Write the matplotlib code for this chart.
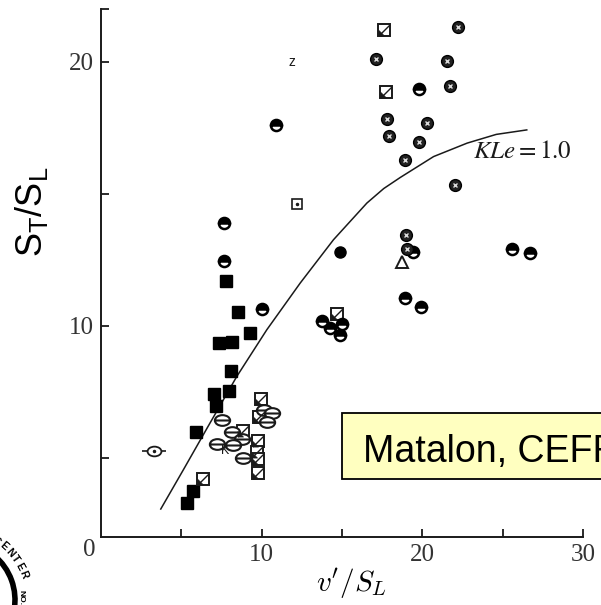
# Turbulent flame speed data, S_T/S_L against v'/S_L, with the KLe = 1.0 curve.

import matplotlib
matplotlib.use("Agg")
import matplotlib.pyplot as plt
import numpy as np
from matplotlib.path import Path
from matplotlib.patches import Rectangle, Arc

# ====== Data ======
# filled squares
sq_x = [7.75, 8.5, 9.28, 7.35, 8.13, 8.1, 7.95, 7.05, 7.13, 5.9, 5.71, 5.38]
sq_y = [11.68, 10.53, 9.71, 9.36, 9.38, 8.3, 7.52, 7.4, 6.98, 5.97, 3.76, 3.27]

# squares with a diagonal / black corner
hsq_x = [6.34, 8.83, 14.71, 17.6, 17.75, 9.95, 9.82, 9.78, 9.7, 9.8, 9.75]
hsq_y = [4.18, 6.02, 10.43, 21.2, 18.86, 7.22, 6.56, 5.63, 5.21, 4.94, 4.42]

# half-filled circles (top black)
half_x = [7.68, 7.68, 10.0, 10.9, 19.8, 19.45, 18.9, 19.93, 25.6, 26.7,
          13.74, 14.28, 15.02, 14.89]
half_y = [13.9, 12.44, 10.64, 17.6, 18.97, 12.79, 11.05, 10.71, 12.9, 12.77,
          10.19, 9.91, 10.05, 9.66]

# open ellipses with a bar
theta_x = [7.52, 8.14, 8.75, 8.2, 7.22, 8.82, 10.12, 10.62, 10.34]
theta_y = [6.44, 5.98, 5.71, 5.5, 5.51, 5.01, 6.8, 6.68, 6.37]

# dark circles with light dots
dot_x = [17.1, 17.8, 17.9, 20.3, 19.8, 18.9, 22.2, 21.55, 21.7, 22.05, 19.0, 19.05]
dot_y = [20.1, 17.84, 17.2, 17.68, 16.97, 16.28, 21.33, 20.04, 19.1, 15.34, 13.45, 12.9]

# single odd symbols
fill_circ = (14.85, 12.8)
open_tri = (18.75, 12.43)
dot_sq = (12.22, 14.6)
whisker = (3.3, 5.25)
k_mark = (7.73, 5.24)
z_mark = (11.9, 20.0)

# KLe = 1.0 curve
curve_x = [3.72, 5.13, 6.58, 8.45, 10.32, 12.4, 14.47, 16.55, 17.6, 18.63, 20.7, 22.79, 24.6, 26.5]
curve_y = [3.06, 4.55, 6.1, 8.08, 9.85, 11.62, 13.26, 14.65, 15.2, 15.62, 16.41, 16.92, 17.25, 17.42]

x_ticks = [5, 10, 15, 20, 25, 30]
x_labels = ["", "10", "", "20", "", "30"]
y_ticks = [5, 10, 15, 20, 22]
y_labels = ["", "10", "", "20", ""]

W, H = 601, 605
INK = "#1a1a1a"
SERIF = "Liberation Serif"
SANS = "Liberation Sans"


def fx(px):
    return px / W


def fy(py):
    # pixel rows are counted from the top
    return 1 - py / H


# ====== Custom marker paths ======
circ = Path.unit_circle()
ellipse = Path(circ.vertices * [1.0, 0.7], circ.codes)
theta_path = Path.make_compound_path(ellipse, Path([(-1, 0), (1, 0)]))
corner_tri = Path([(-1, -1), (0.0, -1), (-1, 0.0), (-1, -1)], closed=True)
diag = Path([(-1, -1), (1, 1)])

fig = plt.figure(figsize=(W / 100, H / 100), dpi=100)
ax = fig.add_axes([fx(101), fy(537), fx(583) - fx(101), fy(9) - fy(537)])
ax.set_xlim(0, 30)
ax.set_ylim(2.0, 22.0)

ms = 8
# curve
ax.plot(curve_x, curve_y, color=INK, lw=1.1, zorder=2)

# filled squares
ax.plot(sq_x, sq_y, ls="none", marker="s", ms=ms, mfc="black", mec="black", zorder=3)

# squares with diagonal
ax.plot(hsq_x, hsq_y, ls="none", marker="s", ms=ms, mfc="white", mec=INK, mew=1.4, zorder=3)
ax.plot(hsq_x, hsq_y, ls="none", marker=corner_tri, ms=ms, mfc=INK, mec=INK, mew=0.5, zorder=4)
ax.plot(hsq_x, hsq_y, ls="none", marker=diag, ms=ms, mfc="none", mec=INK, mew=1.0, zorder=4)

# half-filled circles
ax.plot(half_x, half_y, ls="none", marker="o", ms=ms, fillstyle="top",
        mfc="black", mfcalt="white", mec="black", mew=1.8, zorder=3)

# ellipses with a bar
ax.plot(theta_x, theta_y, ls="none", marker=theta_path, ms=11, mfc="white", mec=INK, mew=1.5, zorder=3)

# dotted dark circles
ax.plot(dot_x, dot_y, ls="none", marker="o", ms=8.5, mfc="#222222", mec="black", zorder=3)
ax.plot(dot_x, dot_y, ls="none", marker="x", ms=3.5, mec="#dddddd", mew=1.0, zorder=4)

# single symbols
ax.plot(*fill_circ, marker="o", ms=ms, mfc="black", mec="black", zorder=3)
ax.plot(*open_tri, marker="^", ms=9, mfc="white", mec=INK, mew=1.4, zorder=3)
ax.plot(*dot_sq, marker="s", ms=7, mfc="white", mec=INK, mew=1.2, zorder=3)
ax.plot(*dot_sq, marker=".", ms=3, color=INK, zorder=4)
ax.plot(*whisker, marker="_", ms=17, mec=INK, mew=1.2, zorder=3)
ax.plot(*whisker, marker=ellipse, ms=10, mfc="white", mec=INK, mew=1.3, zorder=4)
ax.plot(*whisker, marker=".", ms=3, color=INK, zorder=5)
ax.text(*k_mark, "K", fontsize=9, family=SANS, ha="center", va="center", color=INK, zorder=5)
ax.text(*z_mark, "z", fontsize=10, family=SANS, ha="center", va="center", color=INK)

# KLe label
ax.text(fx(473), fy(158), r"$KLe=1.0$", transform=fig.transFigure, fontsize=18,
        math_fontfamily="stix", ha="left", va="baseline", color=INK)

# axes styling
for side in ("top", "right"):
    ax.spines[side].set_visible(False)
for side in ("left", "bottom"):
    ax.spines[side].set_color(INK)
    ax.spines[side].set_linewidth(1.4)

ax.set_xticks(x_ticks, x_labels)
ax.set_yticks(y_ticks, y_labels)
ax.tick_params(direction="in", length=6, width=1.3, color=INK, pad=5,
               labelsize=18, labelcolor="#333333")
for lab in ax.get_xticklabels() + ax.get_yticklabels():
    lab.set_family(SERIF)

fig.text(fx(89), fy(550), "0", fontsize=18, family=SERIF, color="#333333", ha="center", va="center")

# axis titles
fig.text(fx(32), fy(212), r"$\mathregular{S_T/S_L}$", rotation=90, fontsize=26,
         family=SANS, ha="center", va="center")
fig.text(fx(352), fy(583), r"$v'/S_L$", fontsize=21, math_fontfamily="cm",
         ha="center", va="center")

# yellow annotation box, running off the right edge
box = Rectangle((fx(342), fy(479)), fx(300), fy(413) - fy(479), transform=fig.transFigure,
                facecolor="#ffffc0", edgecolor="black", lw=1.3)
fig.add_artist(box)
fig.text(fx(363), fy(462), "Matalon, CEFR", fontsize=27, family=SANS, ha="left", va="baseline")

# partial logo at bottom-left corner
cx, cy, r = -43, 600, 58
logo = Arc((fx(cx), fy(cy)), 2 * r / W, 2 * r / H, theta1=-40, theta2=80,
           transform=fig.transFigure, color="black", lw=4)
fig.add_artist(logo)
for ch, ang in zip("CENTER", [56, 49, 42, 35, 28, 21]):
    a = np.deg2rad(ang)
    fig.text(fx(cx + 71 * np.cos(a)), fy(cy - 71 * np.sin(a)), ch, fontsize=7.5,
             family=SANS, fontweight="bold", rotation=ang - 90, ha="center", va="center")
fig.text(fx(21), fy(597), "NO.", fontsize=6, family=SANS, fontweight="bold",
         rotation=-90, ha="center", va="center")

fig.savefig("out.png", dpi=100)
